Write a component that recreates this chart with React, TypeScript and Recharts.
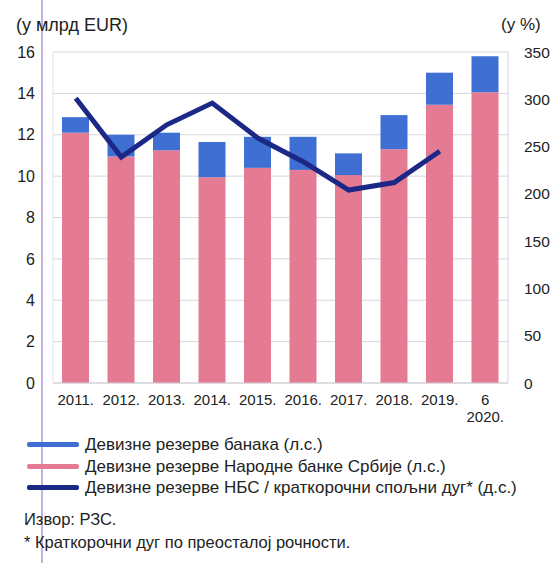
import React from "react";
import { ComposedChart, Bar, Line, XAxis, YAxis, CartesianGrid } from "recharts";

const years = ["2011.", "2012.", "2013.", "2014.", "2015.", "2016.", "2017.", "2018.", "2019.", "6\n2020."];
const nbsReserves = [12.1, 10.95, 11.25, 9.95, 10.4, 10.3, 10.05, 11.3, 13.45, 14.05];
const bankReserves = [0.75, 1.05, 0.85, 1.7, 1.5, 1.6, 1.05, 1.65, 1.55, 1.75];
const reserveToDebt = [301, 239, 273, 296, 259, 234, 204, 212, 245, null];

const leftTicks = [0, 2, 4, 6, 8, 10, 12, 14, 16];
const rightTicks = [0, 50, 100, 150, 200, 250, 300, 350];

const seriesNames = {
  banks: "Девизне резерве банака (л.с.)",
  nbs: "Девизне резерве Народне банке Србије (л.с.)",
  ratio: "Девизне резерве НБС / краткорочни спољни дуг* (д.с.)",
};

const PINK = "#e57b92";
const BLUE = "#3f6fd2";
const NAVY = "#1c2886";
const FONT = "'Liberation Sans', Arial, sans-serif";

const data = years.map((y, i) => ({
  year: y,
  nbs: nbsReserves[i],
  banks: bankReserves[i],
  ratio: reserveToDebt[i],
}));

// two-line label for the last category
const YearTick = (props: any) => {
  const { x, y, payload } = props;
  const lines = String(payload.value).split("\n");
  return (
    <text x={x} y={y} textAnchor="middle" fontSize={15} fill="#222" fontFamily={FONT}>
      {lines.map((l, i) => (
        <tspan key={i} x={x} dy={i === 0 ? 14 : 17}>
          {l}
        </tspan>
      ))}
    </text>
  );
};

const legendItems = [
  { name: seriesNames.banks, color: BLUE },
  { name: seriesNames.nbs, color: PINK },
  { name: seriesNames.ratio, color: NAVY },
];

export default function App() {
  return (
    <div style={{ position: "relative", width: 555, height: 563, background: "#fff", fontFamily: FONT, color: "#222", overflow: "hidden" }}>
      <style>{`html,body{margin:0;padding:0;overflow:hidden}`}</style>
      {/* scan artefact line */}
      <div style={{ position: "absolute", left: 41, top: 0, width: 1.5, height: 563, background: "#c2b3e0" }} />

      <div style={{ position: "absolute", left: 16, top: 15, fontSize: 18 }}>(у млрд EUR)</div>
      <div style={{ position: "absolute", left: 501, top: 15, fontSize: 17 }}>(у %)</div>

      <div style={{ position: "absolute", left: 0, top: 0 }}>
        <ComposedChart width={555} height={430} data={data} margin={{ top: 52, right: 0, left: 0, bottom: 17 }}>
          <CartesianGrid vertical={false} stroke="#d6d6dc" yAxisId="left" />
          <XAxis dataKey="year" tick={<YearTick />} tickLine={false} axisLine={{ stroke: "#d0d0d6" }} height={30} interval={0} />
          <YAxis
            yAxisId="left"
            domain={[0, 16]}
            ticks={leftTicks}
            width={53}
            tickSize={0}
            tickMargin={18}
            axisLine={{ stroke: "#e2e2e8" }}
            tickLine={false}
            tick={{ fontSize: 16, fill: "#222", fontFamily: FONT }}
            interval={0}
          />
          <YAxis
            yAxisId="right"
            orientation="right"
            domain={[0, 350]}
            ticks={rightTicks}
            width={47}
            tickSize={0}
            tickMargin={16}
            axisLine={{ stroke: "#d6d6dc" }}
            tickLine={false}
            tick={{ fontSize: 15.5, fill: "#222", fontFamily: FONT, textAnchor: "start" }}
            interval={0}
          />
          <Bar yAxisId="left" dataKey="nbs" stackId="r" barSize={27} fill={PINK} name={seriesNames.nbs} isAnimationActive={false} />
          <Bar yAxisId="left" dataKey="banks" stackId="r" barSize={27} fill={BLUE} name={seriesNames.banks} isAnimationActive={false} />
          <Line
            yAxisId="right"
            dataKey="ratio"
            type="linear"
            stroke={NAVY}
            strokeWidth={5}
            dot={false}
            activeDot={false}
            name={seriesNames.ratio}
            isAnimationActive={false}
          />
        </ComposedChart>
      </div>

      <div style={{ position: "absolute", left: 27, top: 434, fontSize: 17, lineHeight: "21.5px" }}>
        {legendItems.map((it) => (
          <div key={it.name} style={{ display: "flex", alignItems: "center" }}>
            <span style={{ display: "inline-block", width: 52, height: 5, background: it.color, marginRight: 6, borderRadius: 2 }} />
            <span>{it.name}</span>
          </div>
        ))}
      </div>

      <div style={{ position: "absolute", left: 24, top: 508, fontSize: 16.5, lineHeight: "23px" }}>
        <div>Извор: РЗС.</div>
        <div>* Краткорочни дуг по преосталој рочности.</div>
      </div>
    </div>
  );
}
